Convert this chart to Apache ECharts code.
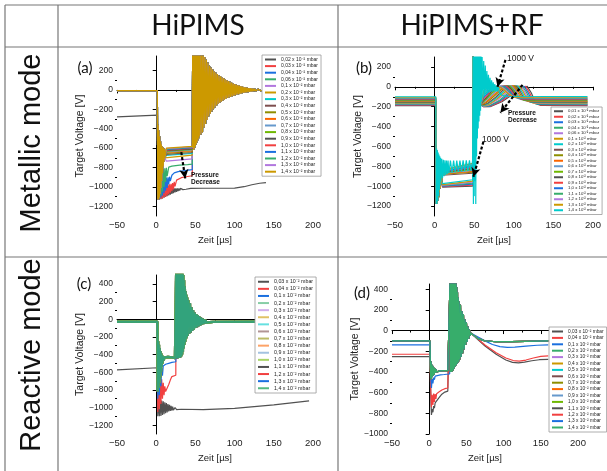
<!DOCTYPE html>
<html>
<head>
<meta charset="utf-8">
<script src="https://cdn.jsdelivr.net/npm/echarts@6/dist/echarts.min.js"></script>
<style>
  html, body { margin: 0; padding: 0; background: #fff; }
  #main { width: 607px; height: 471px; }
</style>
</head>
<body>
<div id="main"></div>
<script>
// Origin default line colours, cycled over the pressure series
const palette = ['#515151', '#F14040', '#1A6FDF', '#37AD6B', '#B177DE', '#CC9900',
  '#00CBCC', '#7D4E4E', '#8E8E00', '#FB6501', '#6699CC', '#6FB802'];
const unit = ' x 10⁻² mbar';

const yTicksAB = [200, 0, -200, -400, -600, -800, -1000, -1200];
const yMinorAB = [100, -100, -300, -500, -700, -900, -1100];
const yTicksC = [400, 200, 0, -200, -400, -600, -800, -1000, -1200];
const yMinorC = [300, 100, -100, -300, -500, -700, -900, -1100];
const yTicksD = [400, 200, 0, -200, -400, -600, -800, -1000];
const yMinorD = [300, 100, -100, -300, -500, -700, -900];

// ---------------- (a) HiPIMS, metallic mode ----------------
const pressA = ['0,02', '0,03', '0,04', '0,06', '0,1', '0,2', '0,3', '0,4', '0,5', '0,6',
  '0,7', '0,8', '0,9', '1,0', '1,1', '1,2', '1,3', '1,4'];
const offA = [[-50, -8], [1.5, -8]];
const curveA002 = [[-50, -277], [1.5, -260], [2, -1130], [3, -1000], [4, -1130], [5, -1004], [6, -1126],
  [7, -1007], [8, -1120], [9, -1009], [10, -1112], [11, -1010], [12, -1104], [13, -1011], [14, -1096],
  [15, -1012], [16, -1088], [17, -1013], [18, -1080], [19, -1013], [20, -1072], [21, -1014], [22, -1064],
  [23, -1014], [24, -1057], [25, -1015], [26, -1050], [27, -1015], [28, -1044], [29, -1015], [30, -1038],
  [31, -1015], [32, -1033], [33, -1015], [34, -1028], [36, -1016], [38, -1024], [40, -1016], [44, -1015],
  [60, -1014], [100, -1012], [112, -998], [122, -978], [132, -962], [140, -956]];
const earlyA = [[2, -1130], [2.5, -360], [3, -1130], [3.5, -420], [4, -1110], [4.5, -480], [5, -1070],
  [5.5, -530], [6, -1010], [6.5, -560], [7, -940], [7.5, -580], [8, -860], [8.5, -590], [9, -790],
  [9.5, -600], [10, -740], [10.5, -610], [11, -700]];
const pulseA003 = [[2, -1130], [3, -950], [4, -1130], [5, -955], [6, -1125], [7, -960], [8, -1118],
  [9, -965], [10, -1110], [11, -968], [12, -1100], [13, -970], [14, -1088], [15, -972], [16, -1075],
  [17, -972], [18, -1060], [19, -968], [20, -1045], [21, -960], [22, -1025], [23, -948], [24, -995],
  [26, -930], [28, -915], [32, -905], [38, -895], [46, -885]];
const pulseA004 = [[2, -1130], [3, -870], [4, -1125], [5, -880], [6, -1110], [7, -890], [8, -1090],
  [9, -898], [10, -1065], [11, -902], [12, -1040], [13, -904], [14, -1010], [15, -902], [16, -975],
  [17, -895], [18, -940], [20, -880], [23, -855], [28, -842], [36, -832], [46, -822]];
const pulseA006 = [[2, -1130], [3, -800], [4, -1120], [5, -808], [6, -1090], [7, -812], [8, -1050],
  [9, -812], [10, -1000], [11, -808], [12, -950], [13, -804], [14, -890], [16, -796], [20, -786],
  [30, -776], [40, -770], [46, -766]];
const ownPulseA = [null, pulseA003, pulseA004, pulseA006];
const platStartA = [null, null, null, null, -735, -695, -675, -665, -655, -645, -638, -632, -626,
  -620, -615, -610, -605, -600];
const platEndA = [null, null, null, null, -710, -672, -655, -645, -635, -626, -619, -613, -607,
  -601, -596, -591, -586, -581];
const ringA = [[46.5, 420], [47, -600], [47.5, 420], [48, -620], [48.5, 420], [49, -600], [49.5, 420],
  [50, -580], [50.5, 420], [51, -560], [51.5, 420], [52, -540], [52.5, 420], [53, -520], [53.5, 420],
  [54, -500], [54.5, 420], [55, -480], [56, 420], [57, -460], [58, 400], [59, -440], [60, 370],
  [61, -390], [62, 340], [63, -350], [64, 310], [65, -310], [66, 280], [67, -270], [68, 250], [69, -245],
  [70, 228], [71, -222], [72, 210], [73, -200], [74, 193], [75, -180], [76, 178], [77, -160], [78, 163],
  [79, -145], [80, 150], [81, -132], [82, 140], [83, -122], [84, 130], [85, -112], [86, 120], [87, -102],
  [88, 110], [89, -92], [90, 100], [91, -84], [92, 92], [93, -78], [94, 84], [95, -72], [96, 76],
  [97, -66], [98, 68], [99, -60], [100, 62], [101, -54], [102, 56], [103, -50], [104, 50], [105, -45],
  [106, 45], [107, -40], [108, 40], [109, -36], [110, 35], [111, -32], [112, 30], [113, -28], [114, 27],
  [115, -25], [116, 23], [117, -22], [118, 20], [119, -19], [120, 18], [121, -16], [122, 15], [123, -14],
  [124, 13], [125, -12], [126, 11], [127, -10], [128, 9], [129, -9], [130, 8], [131, -8], [132, 7],
  [133, -7], [134, 6], [136, -6], [138, 5]];

// ---------------- (b) HiPIMS+RF, metallic mode ----------------
const pressB = ['0,01', '0,02', '0,03', '0,04', '0,06', '0,1', '0,2', '0,3', '0,4', '0,5', '0,6',
  '0,7', '0,8', '0,9', '1,0', '1,1', '1,2', '1,3', '1,4'];
const preB = [-190, -185, -180, -175, -170, -165, -160, -155, -150, -145, -140, -135, -130, -125,
  -120, -115, -110, -105, -100];
const startB = [-1010, -1005, -1000, -995, -990, -985, -975, -890, -880, -875, -870, -865, -860,
  -855, -850, -845, -840, -835];
const endB = [-1000, -990, -980, -970, -960, -950, -935, -870, -860, -850, -840, -830, -820, -810,
  -800, -790, -780, -770];
const earlyB = [[2, -1180], [2.5, -640], [3, -1180], [3.5, -700], [4, -1150], [4.5, -760], [5, -1110],
  [5.5, -790], [6, -1060], [6.5, -810], [7, -1020], [7.5, -830], [8, -980], [8.5, -845], [9, -950]];
const ringB = [[48.5, 320], [49, -480], [49.5, 260], [50, -400], [50.5, 200], [51, -330], [51.5, 150],
  [52, -270], [53, 100], [54, -230], [55, 50], [56, -200], [57, 10], [58, -180]];
const tailsB = [
  [[62, -200], [70, -200], [85, -150], [100, -70], [110, -15], [117, 5], [122, -60], [127, -150], [134, -188], [193, -190]],
  [[62, -200], [70, -198], [84, -145], [98, -65], [108, -12], [115, 5], [120, -60], [125, -148], [132, -183], [193, -185]],
  [[62, -198], [69, -195], [83, -140], [96, -60], [106, -10], [113, 6], [118, -58], [123, -145], [130, -178], [193, -180]],
  [[62, -196], [69, -190], [82, -135], [94, -55], [104, -8], [111, 6], [116, -55], [121, -140], [128, -173], [193, -175]],
  [[62, -194], [68, -185], [80, -128], [92, -50], [102, -5], [109, 8], [114, -52], [119, -135], [126, -168], [193, -170]],
  [[62, -190], [68, -180], [79, -120], [90, -45], [100, -3], [107, 8], [112, -50], [117, -130], [124, -163], [193, -165]],
  [[62, -185], [67, -172], [78, -112], [88, -40], [98, 0], [105, 10], [110, -48], [115, -125], [122, -158], [193, -160]],
  [[62, -180], [67, -165], [77, -105], [86, -35], [96, 2], [103, 10], [108, -45], [113, -120], [120, -153], [193, -155]],
  [[62, -172], [66, -155], [75, -95], [84, -30], [94, 4], [101, 10], [106, -42], [111, -115], [118, -148], [193, -150]],
  [[62, -165], [66, -145], [74, -85], [83, -25], [92, 5], [99, 10], [104, -40], [109, -110], [116, -143], [193, -145]],
  [[62, -155], [65, -135], [73, -75], [81, -20], [90, 6], [97, 10], [102, -38], [107, -105], [114, -138], [193, -140]],
  [[62, -145], [65, -125], [72, -65], [80, -15], [88, 6], [95, 8], [100, -36], [105, -100], [112, -133], [193, -135]],
  [[62, -132], [65, -112], [71, -55], [78, -10], [86, 6], [93, 6], [98, -35], [103, -95], [110, -128], [193, -130]],
  [[62, -118], [65, -98], [70, -45], [77, -5], [84, 6], [91, 4], [96, -35], [101, -90], [108, -123], [193, -125]],
  [[62, -102], [65, -80], [70, -32], [76, 0], [83, 6], [89, 2], [94, -35], [99, -85], [106, -118], [193, -120]],
  [[62, -85], [65, -60], [70, -20], [75, 3], [81, 5], [87, 0], [92, -35], [97, -80], [104, -113], [193, -115]],
  [[62, -65], [65, -40], [69, -10], [74, 4], [79, 4], [85, -2], [90, -35], [95, -75], [102, -108], [193, -110]],
  [[62, -40], [65, -18], [69, 0], [73, 5], [77, 3], [83, -5], [88, -35], [93, -70], [100, -103], [193, -105]]
];
const pulseB14 = [[2, -1180], [2.5, -620], [3, -1180], [3.5, -640], [4, -1150], [4.5, -660], [5, -1100],
  [5.5, -680], [6, -1040], [6.5, -700], [7, -990], [7.5, -715], [8, -950], [9, -725], [10, -920],
  [11, -735], [12, -900], [13, -740], [14, -888], [15, -742], [16, -878], [17, -742], [18, -870],
  [20, -742], [22, -865], [24, -742], [26, -860], [28, -742], [30, -856], [32, -742], [34, -852],
  [36, -741], [38, -849], [40, -740], [42, -846], [44, -740], [46, -844], [48, -742]];
const postB14 = [[48.5, 350], [49, -1180], [49.5, 350], [50, -1100], [50.5, 350], [51, -950], [51.5, 350],
  [52, -1180], [52.5, 350], [53, -700], [53.5, 350], [54, -520], [54.5, 350], [55, -420], [55.5, 350],
  [56, -350], [56.5, 350], [57, -290], [57.5, 340], [58, -240], [58.5, 320], [59, -150], [60, 300],
  [61, -110], [62, 260], [63, -90], [64, 215], [65, -75], [66, 160], [67, -65], [68, 120], [69, -58],
  [70, 90], [71, -52], [72, 65], [73, -48], [74, 45], [75, -45], [76, 28], [77, -45], [78, 12],
  [79, -48], [80, 0], [82, -60], [85, -85], [90, -95], [193, -98]];

// ---------------- (c) HiPIMS, reactive mode ----------------
const pressC = ['0,03', '0,04', '0,1', '0,2', '0,3', '0,4', '0,5', '0,6', '0,7', '0,8', '0,9',
  '1,0', '1,1', '1,2', '1,3', '1,4'];
const curveC003 = [[-50, -575], [1.5, -550], [2, -1100], [3, -900], [4, -1100], [5, -910], [6, -1095],
  [7, -920], [8, -1085], [9, -930], [10, -1075], [11, -940], [12, -1065], [13, -950], [14, -1055],
  [15, -960], [16, -1045], [17, -970], [18, -1040], [19, -980], [20, -1035], [21, -990], [22, -1030],
  [24, -1000], [26, -1025], [28, -1010], [32, -1020], [60, -1025], [100, -1010], [150, -970], [195, -925]];
const pulseC004 = [[-50, -30], [1.5, -30], [2, -1050], [3, -760], [4, -1020], [5, -720], [6, -960],
  [7, -680], [8, -900], [9, -720], [10, -860], [11, -760], [12, -820], [14, -780], [16, -740],
  [18, -690], [20, -650], [22, -640], [25, -635]];
const pulseC01 = [[-50, -30], [1.5, -30], [2, -900], [3, -620], [4, -860], [5, -580], [6, -760],
  [7, -550], [8, -640], [9, -530], [12, -510], [16, -500], [20, -490], [25, -482]];
const pulseCrest = [[-50, -30], [1.5, -30], [2, -820], [2.5, -250], [3, -780], [3.5, -290], [4, -720],
  [4.5, -330], [5, -660], [5.5, -360], [6, -600], [6.5, -390], [7, -540], [7.5, -410], [8, -500],
  [8.5, -420], [9.5, -465], [10.5, -432], [15, -428], [20, -432], [24, -440], [25, -445]];
const ringC = [[25.5, 520], [26, -445], [26.5, 520], [27, -445], [27.5, 520], [28, -440], [28.5, 520],
  [29, -440], [29.5, 520], [30, -435], [30.5, 520], [31, -430], [31.5, 520], [32, -420], [32.5, 520],
  [33, -400], [33.5, 520], [34, -370], [34.5, 500], [35, -330], [35.5, 440], [36, -290], [36.5, 370],
  [37, -255], [37.5, 315], [38, -225], [38.5, 275], [39, -205], [39.5, 245], [40, -190], [41, 215],
  [42, -165], [43, 180], [44, -150], [45, 135], [46, -130], [47, 100], [48, -118], [49, 75], [50, -100],
  [51, 58], [52, -90], [53, 45], [54, -80], [55, 30], [56, -72], [57, 18], [58, -62], [59, 8], [60, -55],
  [61, -2], [62, -48], [63, -12], [64, -40], [66, -20], [68, -35], [70, -26], [73, -31], [126, -30]];

// ---------------- (d) HiPIMS+RF, reactive mode ----------------
const pressD = pressC;
const pulseD003 = [[-50, -252], [1, -252], [2, -600], [3, -815], [4, -760], [5, -790], [6, -730],
  [7, -750], [8, -700], [10, -680], [13, -650], [17, -615], [21, -595], [25, -585], [27.5, -580]];
const pulseD004 = [[-50, -229], [1, -229], [2, -550], [3, -740], [4, -620], [5, -720], [6, -610],
  [7, -690], [8, -615], [9, -660], [10, -610], [13, -595], [17, -575], [21, -562], [25, -555], [27.5, -552]];
const pulseD01 = [[-50, -138], [1, -138], [2, -420], [3, -555], [4, -470], [5, -510], [6, -455],
  [7, -475], [8, -440], [10, -432], [15, -428], [20, -425], [27.5, -420]];
const pulseDrest = [[-50, -100], [1, -100], [1.5, -300], [2, -460], [2.5, -300], [3, -470], [3.5, -330],
  [4, -450], [4.5, -340], [5, -440], [5.5, -350], [6, -430], [6.5, -360], [7, -420], [7.5, -365],
  [8, -410], [9, -372], [10, -400], [12, -385], [15, -390], [20, -388], [25, -388], [27.5, -390]];
const ringD = [[28, 480], [28.5, -400], [29, 480], [29.5, -400], [30, 480], [30.5, -395], [31, 480],
  [31.5, -390], [32, 480], [32.5, -380], [33, 480], [33.5, -365], [34, 480], [34.5, -350], [35, 480],
  [35.5, -340], [36, 470], [36.5, -330], [37, 420], [37.5, -320], [38, 370], [38.5, -310], [39, 320],
  [39.5, -300], [40, 280], [41, -280], [42, 250], [43, -255], [44, 190], [45, -220], [46, 160],
  [47, -180], [48, 110], [49, -140], [50, 80], [51, -110], [52, 40], [53, -80], [54, 10], [55, -50],
  [56, -25]];
const tailD003 = [[58, -40], [65, -85], [75, -150], [90, -230], [103, -285], [112, -308], [120, -312],
  [128, -305], [138, -292], [148, -282], [160, -278]];
const tailD004 = [[58, -38], [65, -80], [75, -140], [90, -215], [103, -265], [113, -290], [121, -296],
  [130, -285], [140, -265], [150, -250], [160, -245]];
const tailD01 = [[58, -35], [65, -60], [75, -100], [85, -135], [95, -155], [105, -162], [115, -160],
  [130, -150], [145, -142], [160, -138]];
const tailDrest = [[58, -40], [65, -75], [75, -100], [90, -108], [110, -108], [130, -104], [160, -100]];

// annotation arrows [x1, y1, x2, y2] in data units
const arrowsA = [[32, -642, 37, -912]];
const arrowsB = [[89.5, 271, 79.4, 0], [61.6, -553, 49, -905], [111, 20, 83, -261]];

function buildA(i) {
  if (i === 0) return curveA002;
  const pulse = ownPulseA[i] || earlyA.concat([[13, platStartA[i]], [46, platEndA[i]]]);
  return offA.concat(pulse, ringA);
}
function buildB(i) {
  const pre = [[-50, preB[i]], [1.5, preB[i]]];
  if (i === 18) return pre.concat(pulseB14, postB14);
  return pre.concat(earlyB, [[10, startB[i]], [48, endB[i]]], ringB, tailsB[i]);
}
function buildC(i) {
  if (i === 0) return curveC003;
  const pulse = i === 1 ? pulseC004 : i === 2 ? pulseC01 : pulseCrest;
  return pulse.concat(ringC);
}
function buildD(i) {
  const pulse = [pulseD003, pulseD004, pulseD01][i] || pulseDrest;
  const tail = [tailD003, tailD004, tailD01][i] || tailDrest;
  return pulse.concat(ringD, tail);
}

// panel (c): wide, translucent pens for most pressures
const thickC = [false, false, false, true, true, true, true, true, true, true, true, true, false, false, false, true];

const font = 'Liberation Sans';
const minusFmt = v => String(v).replace('-', '−');

const panels = [
  { tag: 'a', names: pressA, build: buildA, grid: { left: 117, top: 56, width: 196, height: 160 },
    yMin: -1300, yMax: 350, ticks: yTicksAB, minor: yMinorAB, arrows: arrowsA,
    legend: { left: 262, top: 55, fs: 5, ih: 5, gap: 1.6, iw: 11 } },
  { tag: 'b', names: pressB, build: buildB, grid: { left: 395, top: 57, width: 198, height: 159 },
    yMin: -1300, yMax: 300, ticks: yTicksAB, minor: yMinorAB, arrows: arrowsB,
    legend: { left: 551, top: 107, fs: 4.3, ih: 4.5, gap: 1.0, iw: 9 } },
  { tag: 'c', names: pressC, build: buildC, grid: { left: 117, top: 275, width: 196, height: 159 },
    yMin: -1300, yMax: 500, ticks: yTicksC, minor: yMinorC, arrows: null,
    legend: { left: 255, top: 277, fs: 5.3, ih: 5.5, gap: 1.6, iw: 11 } },
  { tag: 'd', names: pressD, build: buildD, grid: { left: 392, top: 284, width: 186, height: 150 },
    yMin: -1000, yMax: 450, ticks: yTicksD, minor: yMinorD, arrows: null,
    legend: { left: 549, top: 327, fs: 4.8, ih: 5, gap: 1.4, iw: 11 } }
];

const grid = [], xAxis = [], yAxis = [], legend = [], series = [];
panels.forEach((p, k) => {
  grid.push(Object.assign({ containLabel: false }, p.grid));
  xAxis.push({
    type: 'value', gridIndex: k, min: -50, max: 200, interval: 50,
    name: 'Zeit [µs]', nameLocation: 'middle', nameGap: 19,
    nameTextStyle: { fontSize: 9.5, color: '#222', fontFamily: font },
    axisLine: { lineStyle: { color: '#000', width: 1 } },
    axisTick: { length: 3.5, lineStyle: { color: '#000' } },
    minorTick: { show: true, splitNumber: 2, length: 2, lineStyle: { color: '#000' } },
    axisLabel: { fontSize: 9.5, color: '#222', margin: 4, fontFamily: font, formatter: minusFmt },
    splitLine: { show: false }
  });
  yAxis.push({
    type: 'value', gridIndex: k, min: p.yMin, max: p.yMax, position: 'left',
    name: 'Target Voltage [V]', nameLocation: 'middle', nameGap: 26,
    nameTextStyle: { fontSize: 10.5, color: '#222', fontFamily: font },
    axisLine: { show: true, lineStyle: { color: '#000', width: 1 } },
    axisTick: { show: true, length: 3.5, customValues: p.ticks, lineStyle: { color: '#000' } },
    axisLabel: { customValues: p.ticks, fontSize: 8.5, color: '#222', margin: 4, fontFamily: font, formatter: minusFmt },
    splitLine: { show: false }
  });
  yAxis.push({
    type: 'value', gridIndex: k, min: p.yMin, max: p.yMax, position: 'left',
    axisLine: { show: false },
    axisTick: { show: true, length: 2, customValues: p.minor, lineStyle: { color: '#000' } },
    axisLabel: { show: false },
    splitLine: { show: false }
  });
  const L = p.legend;
  legend.push({
    orient: 'vertical', left: L.left, top: L.top, padding: [2, 3, 2, 2],
    itemWidth: L.iw, itemHeight: L.ih, itemGap: L.gap, selectedMode: false,
    backgroundColor: '#fff', borderColor: '#999', borderWidth: 0.8,
    itemStyle: { opacity: 0 },
    textStyle: { fontSize: L.fs, lineHeight: L.ih, color: '#222', fontFamily: font },
    formatter: name => name.split('|')[1] + unit,
    data: p.names.map(n => p.tag + '|' + n)
  });
  p.names.forEach((n, i) => {
    const thick = p.tag === 'c' && thickC[i];
    const last = p.tag === 'c' && i === p.names.length - 1;
    const s = {
      type: 'line', name: p.tag + '|' + n, xAxisIndex: k, yAxisIndex: 2 * k,
      data: p.build(i), symbol: 'none', silent: true, animation: false,
      lineStyle: { color: palette[i % 12], width: thick ? 2.4 : 1.2, opacity: last ? 0.85 : thick ? 0.6 : 1 },
      itemStyle: { color: palette[i % 12] }
    };
    if (p.arrows && i === p.names.length - 1) {
      s.markLine = {
        silent: true, animation: false, symbol: ['none', 'arrow'], symbolSize: [7, 9],
        lineStyle: { type: [3, 2], width: 2.2, color: '#000', opacity: 1 },
        label: { show: false },
        data: p.arrows.map(a => [{ coord: [a[0], a[1]] }, { coord: [a[2], a[3]] }])
      };
    }
    series.push(s);
  });
});

// table frame and headings
const tableLines = [[5, 5, 607, 5], [5, 47, 607, 47], [5, 257, 607, 257],
  [5, 5, 5, 471], [58, 5, 58, 471], [338, 5, 338, 471]];
const graphic = tableLines.map(l => ({
  type: 'line', z: 100, silent: true,
  shape: { x1: l[0], y1: l[1], x2: l[2], y2: l[3] },
  style: { stroke: '#777', lineWidth: 1.2 }
}));
function txt(text, x, y, size, opts) {
  return Object.assign({
    type: 'text', x: x, y: y, z: 100, silent: true,
    style: Object.assign({ text: text, fontSize: size, fontFamily: font, fill: '#111',
      textAlign: 'center', textVerticalAlign: 'middle' }, (opts && opts.style) || {})
  }, (opts && opts.el) || {});
}
graphic.push(
  txt('HiPIMS', 198, 26, 28, { style: { fontFamily: 'Lato' } }),
  txt('HiPIMS+RF', 472, 26, 28, { style: { fontFamily: 'Lato' } }),
  txt('Metallic mode', 32, 143, 29, { el: { rotation: Math.PI / 2 } }),
  txt('Reactive mode', 32, 355, 29, { el: { rotation: Math.PI / 2 } }),
  txt('(a)', 85, 68, 15, { style: { fontFamily: 'Lato' } }),
  txt('(b)', 364, 68, 15, { style: { fontFamily: 'Lato' } }),
  txt('(c)', 84, 284, 15, { style: { fontFamily: 'Lato' } }),
  txt('(d)', 362, 293, 15, { style: { fontFamily: 'Lato' } }),
  txt('Pressure', 191, 175, 6.5, { style: { textAlign: 'left', fontWeight: 'bold' } }),
  txt('Decrease', 191, 182, 6.5, { style: { textAlign: 'left', fontWeight: 'bold' } }),
  txt('Pressure', 508, 113, 6.5, { style: { textAlign: 'left', fontWeight: 'bold' } }),
  txt('Decrease', 508, 120, 6.5, { style: { textAlign: 'left', fontWeight: 'bold' } }),
  txt('1000 V', 507, 59, 8.5, { style: { textAlign: 'left' } }),
  txt('1000 V', 482, 140, 8.5, { style: { textAlign: 'left' } })
);

const chart = echarts.init(document.getElementById('main'));
chart.setOption({
  backgroundColor: '#fff',
  animation: false,
  textStyle: { fontFamily: font },
  grid: grid,
  xAxis: xAxis,
  yAxis: yAxis,
  legend: legend,
  series: series,
  graphic: graphic
});
</script>
</body>
</html>
